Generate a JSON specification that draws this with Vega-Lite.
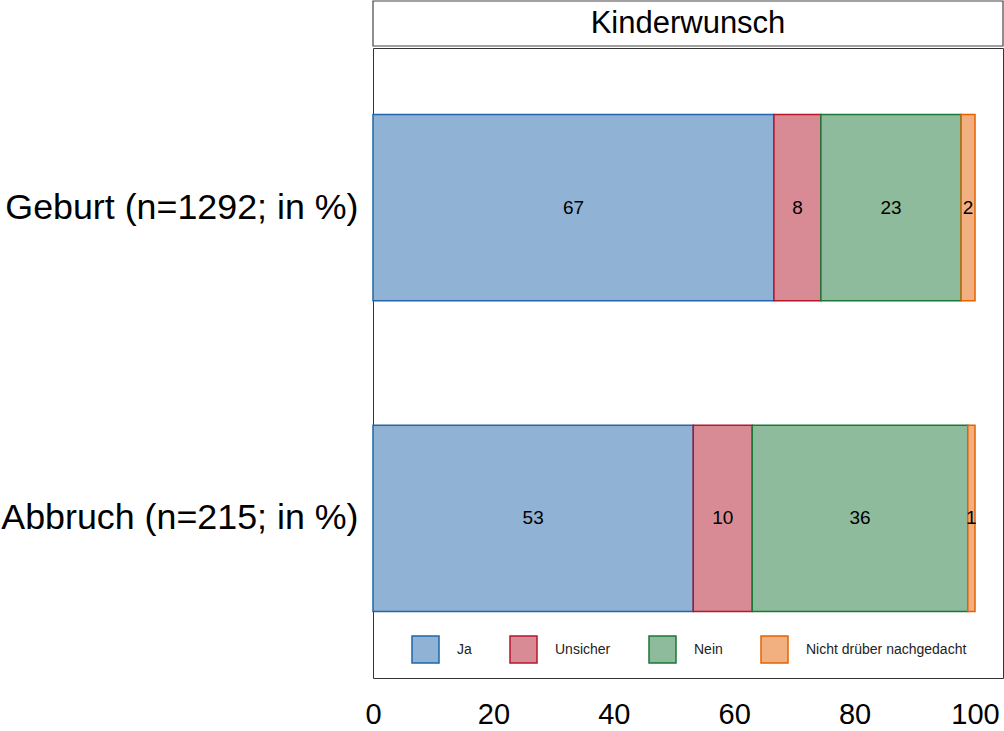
{
  "$schema": "https://vega.github.io/schema/vega-lite/v6.json",
  "background": "white",
  "padding": {"left": 0, "top": 0, "right": 1, "bottom": 0},
  "config": {
    "font": "Liberation Sans",
    "view": {"stroke": "#333333", "strokeWidth": 1},
    "concat": {"spacing": 0}
  },
  "datasets": {
    "bars": [
      {"group": "Geburt (n=1292; in %)", "cat": "Ja", "ord": 1, "value": 66.6},
      {"group": "Geburt (n=1292; in %)", "cat": "Unsicher", "ord": 2, "value": 7.8},
      {"group": "Geburt (n=1292; in %)", "cat": "Nein", "ord": 3, "value": 23.3},
      {"group": "Geburt (n=1292; in %)", "cat": "Nicht drüber nachgedacht", "ord": 4, "value": 2.3},
      {"group": "Abbruch (n=215; in %)", "cat": "Ja", "ord": 1, "value": 53.2},
      {"group": "Abbruch (n=215; in %)", "cat": "Unsicher", "ord": 2, "value": 9.8},
      {"group": "Abbruch (n=215; in %)", "cat": "Nein", "ord": 3, "value": 35.8},
      {"group": "Abbruch (n=215; in %)", "cat": "Nicht drüber nachgedacht", "ord": 4, "value": 1.2}
    ]
  },
  "vconcat": [
    {
      "width": 630,
      "height": 45,
      "data": {"values": [{"panel": "Kinderwunsch"}]},
      "layer": [
        {
          "mark": {"type": "rect", "fill": "white", "stroke": "#444444", "strokeWidth": 1.2},
          "encoding": {}
        },
        {
          "mark": {"type": "text", "fontSize": 31, "color": "black", "baseline": "middle", "align": "center"},
          "encoding": {"text": {"field": "panel", "type": "nominal"}}
        }
      ]
    },
    {
      "width": 630,
      "height": 630,
      "data": {"name": "bars"},
      "transform": [
        {"stack": "value", "groupby": ["group"], "sort": [{"field": "ord", "order": "ascending"}], "as": ["x0", "x1"]},
        {"calculate": "(datum.x0 + datum.x1) / 2", "as": "mid"}
      ],
      "encoding": {
        "y": {
          "field": "group",
          "type": "nominal",
          "sort": ["Geburt (n=1292; in %)", "Abbruch (n=215; in %)"],
          "scale": {"paddingInner": 0.4, "paddingOuter": 0.214},
          "axis": {"title": null, "ticks": false, "domain": false, "grid": false, "labelFontSize": 35.8, "labelPadding": 15, "labelColor": "black", "labelLimit": 500}
        }
      },
      "layer": [
        {
          "mark": {"type": "bar", "strokeWidth": 1.5},
          "encoding": {
            "x": {
              "field": "x0",
              "type": "quantitative",
              "scale": {"domain": [0, 104.65], "nice": false},
              "axis": {"title": null, "ticks": false, "domain": false, "grid": false, "values": [0, 20, 40, 60, 80, 100], "labelFontSize": 29, "labelPadding": 22, "labelFlush": false, "labelOverlap": false, "labelColor": "black"}
            },
            "x2": {"field": "x1"},
            "fill": {
              "field": "cat",
              "type": "nominal",
              "scale": {"domain": ["Ja", "Unsicher", "Nein", "Nicht drüber nachgedacht"], "range": ["#90b2d5", "#d88b95", "#8dbb9b", "#f2b080"]},
              "legend": {"orient": "none", "legendX": 38, "legendY": 634, "direction": "horizontal", "title": null, "symbolType": "square", "symbolSize": 729, "symbolStrokeWidth": 1.5, "symbolOpacity": 1, "labelFontSize": 14, "labelOffset": 17, "columnPadding": 35, "labelColor": "#222222", "labelLimit": 300, "padding": 0}
            },
            "stroke": {
              "field": "cat",
              "type": "nominal",
              "scale": {"domain": ["Ja", "Unsicher", "Nein", "Nicht drüber nachgedacht"], "range": ["#2166ac", "#b2182b", "#1b7837", "#e66101"]},
              "legend": {"orient": "none", "legendX": 38, "legendY": 634, "direction": "horizontal", "title": null, "symbolType": "square", "symbolSize": 729, "symbolStrokeWidth": 1.5, "symbolOpacity": 1, "labelFontSize": 14, "labelOffset": 17, "columnPadding": 35, "labelColor": "#222222", "labelLimit": 300, "padding": 0}
            },
            "order": {"field": "ord", "type": "quantitative"}
          }
        },
        {
          "mark": {"type": "text", "fontSize": 19, "color": "black", "baseline": "middle", "align": "center"},
          "encoding": {
            "x": {"field": "mid", "type": "quantitative"},
            "text": {"field": "value", "type": "quantitative", "format": ".0f"}
          }
        }
      ]
    }
  ]
}
